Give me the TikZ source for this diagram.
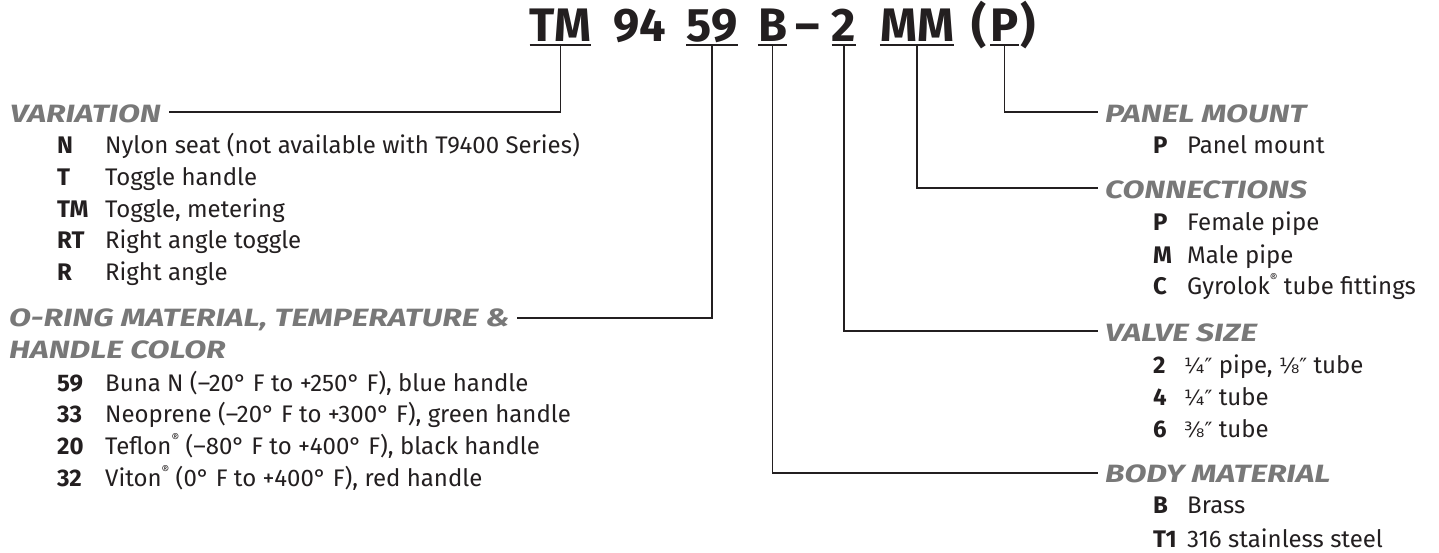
\documentclass[tikz,border=0pt]{standalone}
\usepackage{fontspec}
\setmainfont{Fira Sans}
\newfontfamily\hdrfont[FakeStretch=1.28]{Fira Sans}
\newfontfamily\fracfont{DejaVu Sans}
\definecolor{ink}{HTML}{231F20}
\definecolor{hdgray}{HTML}{787878}
\newcommand{\regmark}{\raisebox{0.5em}{\fontsize{12}{12}\selectfont ®}}
\newcommand{\frc}[1]{{\fracfont\fontsize{21}{21}\selectfont #1″}}
\begin{document}
\begin{tikzpicture}[x=1pt,y=1pt,
  ttl/.style={font=\fontsize{47}{47}\selectfont\bfseries, text=ink, inner sep=0pt, anchor=base},
  hdr/.style={font=\hdrfont\fontsize{25}{25}\selectfont\bfseries\itshape, text=hdgray, inner sep=0pt, anchor=base west},
  code/.style={font=\fontsize{24}{24}\selectfont\bfseries, text=ink, inner sep=0pt, anchor=base west},
  desc/.style={font=\fontsize{24}{24}\selectfont, text=ink, inner sep=0pt, anchor=base west},
  lead/.style={draw=ink, line width=1.8pt},
  uline/.style={draw=ink, line width=2pt}]
\useasboundingbox (0,0) rectangle (1439,-552);
\coordinate (ul) at (0,-44.5);
\coordinate (vt) at (0,-46);
% title
\node[ttl] (tTM) at (560.5,-41) {TM};
\node[ttl] (t94) at (640,-41) {94};
\node[ttl] (t59) at (712,-41) {59};
\node[ttl] (tB) at (772.5,-41) {B};
\node[ttl] (tdash) at (807.5,-41) {–};
\node[ttl] (t2) at (844,-41) {2};
\node[ttl] (tMM) at (917,-41) {MM};
\node[ttl] (tP) at (1004.5,-41) {P};
\node[ttl, anchor=base east] (tlp) at ([xshift=-3pt]tP.base west) {(};
\node[ttl, anchor=base west] (trp) at ([xshift=1pt]tP.base east) {)};
\foreach \n in {tTM,t59,tB,t2,tMM,tP}
  \draw[uline] (\n.base west |- ul) -- (\n.base east |- ul);
% headers
\node[hdr] (hVar) at (10,-122) {VARIATION};
\node[hdr] (hOr) at (9,-326) {O-RING MATERIAL, TEMPERATURE \&};
\node[hdr] (hOr2) at (9,-358) {HANDLE COLOR};
\node[hdr] (hPM) at (1105,-122) {PANEL MOUNT};
\node[hdr] (hCo) at (1105,-198) {CONNECTIONS};
\node[hdr] (hVS) at (1105,-341) {VALVE SIZE};
\node[hdr] (hBM) at (1105,-482) {BODY MATERIAL};
% leaders
\draw[lead] (tTM.base |- vt) |- ([shift={(8,10)}]hVar.base east);
\draw[lead] (t59.base |- vt) |- ([shift={(7,8)}]hOr.base east);
\draw[lead] (tB.base |- vt) |- ([shift={(-7,9)}]hBM.base west);
\draw[lead] (t2.base |- vt) |- ([shift={(-7,10)}]hVS.base west);
\draw[lead] (tMM.base |- vt) |- ([shift={(-7,10)}]hCo.base west);
\draw[lead] (tP.base |- vt) |- ([shift={(-7,10)}]hPM.base west);
% variation items
\node[code] (cN) at (57,-153) {N};   \node[desc] (dN) at (105,-153) {Nylon seat (not available with T9400 Series)};
\node[code] (cT) at (57,-185) {T};   \node[desc] (dT) at (105,-185) {Toggle handle};
\node[code] (cTM) at (57,-217) {TM}; \node[desc] (dTM) at (105,-217) {Toggle, metering};
\node[code] (cRT) at (57,-248) {RT}; \node[desc] (dRT) at (105,-248) {Right angle toggle};
\node[code] (cR) at (57,-280) {R};   \node[desc] (dR) at (105,-280) {Right angle};
% o-ring items
\node[code] (c59) at (57,-391) {59}; \node[desc] (d59) at (105,-391) {Buna N (–20° F to +250° F), blue handle};
\node[code] (c33) at (57,-422) {33}; \node[desc] (d33) at (105,-422) {Neoprene (–20° F to +300° F), green handle};
\node[code] (c20) at (57,-454) {20}; \node[desc] (d20) at (105,-454) {Teflon\regmark{} (–80° F to +400° F), black handle};
\node[code] (c32) at (57,-486) {32}; \node[desc] (d32) at (105,-486) {Viton\regmark{} (0° F to +400° F), red handle};
% panel mount
\node[code] (cPP) at (1153,-153) {P}; \node[desc] (dPP) at (1187,-153) {Panel mount};
% connections
\node[code] (cCP) at (1153,-230) {P}; \node[desc] (dCP) at (1187,-230) {Female pipe};
\node[code] (cCM) at (1153,-263) {M}; \node[desc] (dCM) at (1187,-263) {Male pipe};
\node[code] (cCC) at (1153,-294) {C}; \node[desc] (dCC) at (1187,-294) {Gyrolok\regmark{} tube fittings};
% valve size
\node[code] (cV2) at (1153,-373) {2}; \node[desc] (dV2) at (1184,-373) {\frc{¼} pipe, \frc{⅛} tube};
\node[code] (cV4) at (1153,-405) {4}; \node[desc] (dV4) at (1184,-405) {\frc{¼} tube};
\node[code] (cV6) at (1153,-437) {6}; \node[desc] (dV6) at (1184,-437) {\frc{⅜} tube};
% body material
\node[code] (cBB) at (1153,-513) {B};  \node[desc] (dBB) at (1187,-513) {Brass};
\node[code] (cBT) at (1153,-547) {T1}; \node[desc] (dBT) at (1187,-547) {316 stainless steel};
\end{tikzpicture}
\end{document}
